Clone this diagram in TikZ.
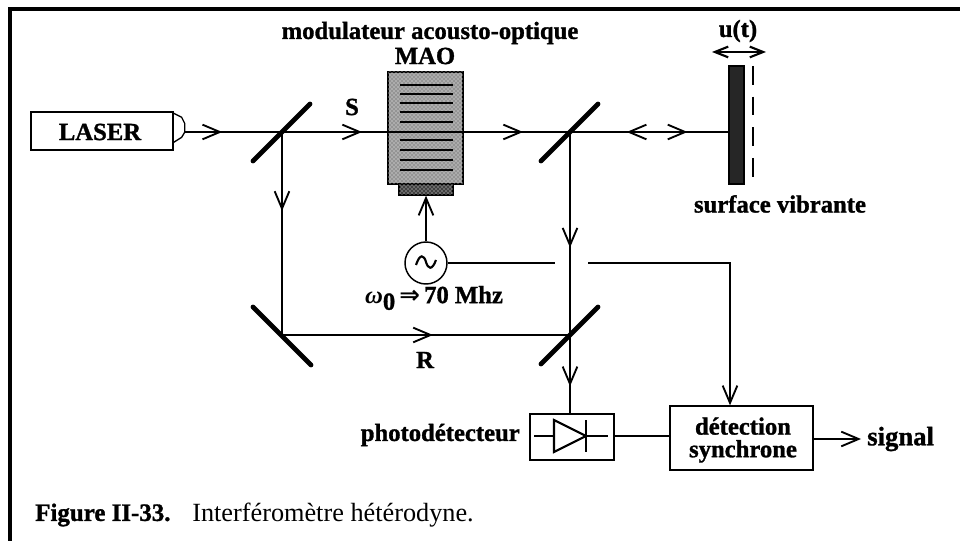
\documentclass[tikz,border=0pt]{standalone}
\usepackage{amsmath,amssymb}
\usepackage{fontspec}
\setmainfont[BoldFeatures={FakeBold=1.2}]{Liberation Serif}
\newfontfamily\arrowfont{DejaVu Sans}
\usetikzlibrary{arrows.meta,calc,decorations.markings,patterns}

\tikzset{
  lab/.style={font=\fontsize{18.5}{20}\selectfont\bfseries,inner sep=0pt},
  boxed/.style={draw,line width=1pt,fill=white,inner sep=0pt},
  speckled/.style={draw,line width=1pt,fill=#1,inner sep=0pt,postaction={pattern=crosshatch dots,pattern color=white}},
  beam/.style={line width=1.1pt},
  wire/.style={line width=1.1pt},
  mirror/.style={line width=3.6pt,line cap=round},
  barb/.tip={Straight Barb[length=13pt,width=11pt,line width=1.4pt]},
  smallbarb/.tip={Straight Barb[length=10pt,width=8pt,line width=1.6pt]},
  arrowat/.style={postaction={decorate,decoration={markings,mark=at position #1 with {\arrow{barb}}}}}
}

\begin{document}
\begin{tikzpicture}[x=0.75pt,y=-0.75pt]
    \useasboundingbox (0,0) rectangle (960,541);

    % Frame
    \draw[line width=3pt] (9.5,541) -- (9.5,9.5) -- (960,9.5);

    % Laser
    \node[boxed,minimum width=106.5pt,minimum height=28.5pt] (laser) at (102,131) {};
    \node[lab] (lasertxt) at (100,132) {LASER};
    \draw[line width=1pt] (laser.north east) ++(0,2) -- ++(8,4) -- ++(3,6) -- ++(0,9) -- ++(-3,5) -- ++(-8,5);
    \coordinate (nose) at (184,132);

    % Mirrors
    \coordinate (mA) at (282,132);
    \coordinate (mB) at (570,132);
    \coordinate (mC) at (282,335);
    \coordinate (mD) at (570,335);

    % Modulator
    \node[speckled=black!42,minimum width=56.25pt,minimum height=84pt] (mao) at (425.5,128) {};
    \node[speckled=black!75,minimum width=40.5pt,minimum height=8.25pt] (trans) at (426,189.5) {};
    \foreach \y in {85,94,103,112,122,140,150,160,170}
      \draw[line width=2pt] (400,\y) -- (453,\y);
    \node[lab] (maotxt) at (425,56) {MAO};
    \node[lab] (modtxt) at (430,33) {modulateur acousto-optique};

    % Vibrating surface
    \node[draw,line width=1pt,fill=black!85,minimum width=11.25pt,minimum height=88.5pt,inner sep=0pt] (surf) at (736.5,125) {};
    \draw[line width=2.2pt,dash pattern=on 14pt off 9pt] (753,66) -- (753,184);
    \node[lab] (surftxt) at (780,204) {surface vibrante};
    \node[lab] (utxt) at (738,31) {u(t)};
    \coordinate (uL) at (712,52);
    \coordinate (uR) at (766,52);
    \draw[line width=1pt,{smallbarb}-{smallbarb}] (uL) -- (uR);

    % Oscillator
    \node[circle,draw,line width=1.1pt,minimum size=31.5pt,inner sep=0pt] (osc) at (426,263) {};
    \draw[line width=1.6pt] (416,265) .. controls (420,253) and (424,255) .. (426,262) .. controls (428,269) and (432,271) .. (436,260);
    \node[lab] (freq) at (434,298) {\textit{ω}\raisebox{-5pt}{0}\,{\arrowfont\bfseries ⇒}\,70 Mhz};

    % Detection
    \node[boxed,minimum width=63pt,minimum height=34.5pt] (pd) at (572,437) {};
    \node[boxed,minimum width=107.25pt,minimum height=48pt] (det) at (741.5,438) {};
    \node[lab,align=center] (dettxt) at (743,440) {détection\\[-3pt]synchrone};
    \coordinate (dA) at (534,436);
    \coordinate (dB) at (608,436);
    \draw[line width=1pt] (dA) -- (dB);
    \draw[line width=1.6pt,fill=white] (554,420) -- (586,436) -- (554,452) -- cycle;
    \draw[line width=2pt] (586,420) -- (586,452);
    \node[lab,anchor=east] (pdtxt) at (520,435) {photodétecteur};
    \node[lab,anchor=west,font=\fontsize{20}{22}\selectfont\bfseries] (signal) at (867,439) {signal};

    % Beams
    \draw[beam,arrowat=.39] (nose) -- (mA);
    \draw[beam,arrowat=.278,arrowat=.837] (mA) -- (mB);
    \draw[beam,arrowat=.742] (mB) -- (mB -| surf.west);
    \draw[beam,arrowat=.642] (mB -| surf.west) -- (mB);
    \draw[beam,arrowat=.389] (mA) -- (mC);
    \draw[beam,arrowat=.524] (mC) -- (mD);
    \draw[beam,arrowat=.411,arrowat=.904] (mB) -- (mB |- pd.north);
    \node[lab] (stxt) at (352,107) {S};
    \node[lab] (rtxt) at (425,360) {R};

    % Mirrors on top of the beams
    \draw[mirror] ($(mA)+(-29,29)$) -- ($(mA)+(28,-28)$);
    \draw[mirror] ($(mB)+(-29,29)$) -- ($(mB)+(28,-28)$);
    \draw[mirror] ($(mC)+(-29,-28)$) -- ($(mC)+(29,30)$);
    \draw[mirror] ($(mD)+(-29,29)$) -- ($(mD)+(28,-28)$);

    % Connections
    \coordinate (gapL) at (555,263);
    \coordinate (gapR) at (588,263);
    \coordinate (corner) at (730,263);
    \draw[wire,-{barb}] (osc.north) -- (trans.south);
    \draw[wire] (osc.east) -- (gapL);
    \draw[wire,-{barb}] (gapR) -- (corner) -- (corner |- det.north);
    \draw[wire] (pd.east |- dA) -- (det.west |- dA);
    \draw[wire,-{barb},shorten >=4.5pt] (det.east |- signal) -- (signal.west);

    % Caption
    \node[anchor=west,inner sep=0pt,font=\fontsize{18.7}{20}\selectfont\bfseries] (figtxt) at (35,515) {Figure II-33.};
    \node[anchor=west,inner sep=0pt,font=\fontsize{19.7}{22}\selectfont] (captxt) at (192,515) {Interféromètre hétérodyne.};
\end{tikzpicture}
\end{document}
